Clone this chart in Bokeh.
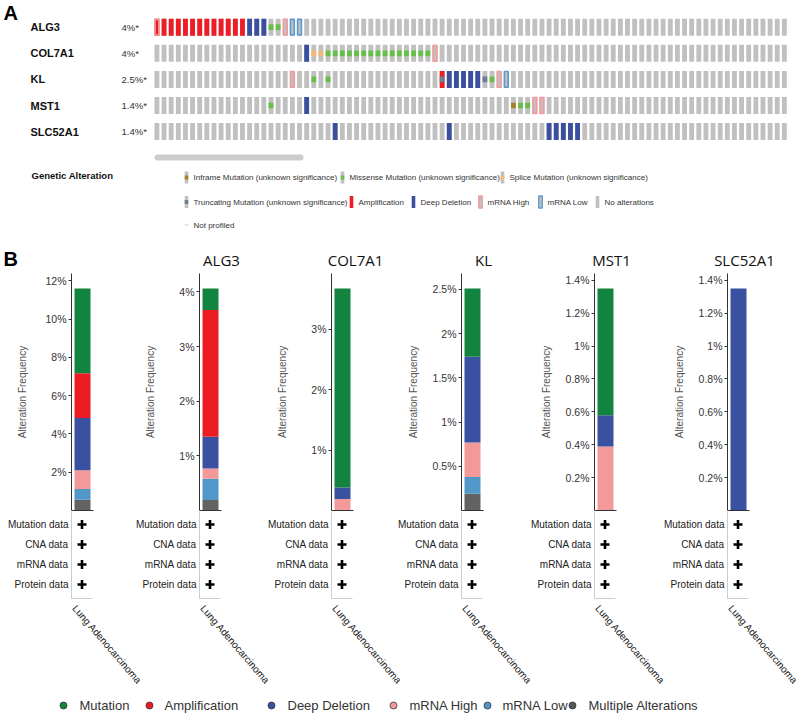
from bokeh.plotting import figure
from bokeh.layouts import column, row
from bokeh.models import Range1d, LinearAxis, FixedTicker, CustomJSTickFormatter, ColumnDataSource
from bokeh.core.properties import value
from bokeh.embed import file_html
from bokeh.resources import INLINE

# ---------------- Panel A data (oncoprint) ----------------
genes = ["ALG3", "COL7A1", "KL", "MST1", "SLC52A1"]
gene_freq_labels = ["4%*", "4%*", "2.5%*", "1.4%*", "1.4%*"]
n_samples_shown = 89

amplification_cols = {"ALG3": [0, 1, 2, 3, 4, 5, 6, 7, 8, 9, 10, 11, 12], "KL": [40]}
deep_deletion_cols = {"ALG3": [13, 14, 15], "COL7A1": [21], "KL": [41, 42, 43, 44, 45],
                      "MST1": [21], "SLC52A1": [25, 41, 55, 56, 57, 58, 59]}
mrna_high_cols = {"ALG3": [0, 18], "COL7A1": [39], "KL": [19, 48], "MST1": [53, 54]}
mrna_low_cols = {"ALG3": [19, 20], "KL": [49]}
missense_cols = {"ALG3": [16, 17],
                 "COL7A1": [24, 25, 26, 27, 28, 29, 30, 31, 32, 33, 34, 35, 36, 37, 38],
                 "KL": [22, 24, 47], "MST1": [16, 51, 52]}
splice_cols = {"COL7A1": [22, 23]}
inframe_cols = {"MST1": [50]}
truncating_cols = {"KL": [40, 46]}

legend_a_labels = ["Inframe Mutation (unknown significance)", "Missense Mutation (unknown significance)",
                   "Splice Mutation (unknown significance)", "Truncating Mutation (unknown significance)",
                   "Amplification", "Deep Deletion", "mRNA High", "mRNA Low", "No alterations", "Not profiled"]

# ---------------- Panel B data (alteration frequency, %) ----------------
panel_titles = ["", "ALG3", "COL7A1", "KL", "MST1", "SLC52A1"]
multiple_pct = [0.56, 0.19, 0.00, 0.19, 0.00, 0.00]
mrna_low_pct = [0.56, 0.39, 0.00, 0.19, 0.00, 0.00]
mrna_high_pct = [0.98, 0.19, 0.19, 0.39, 0.39, 0.00]
deep_del_pct = [2.73, 0.58, 0.19, 0.97, 0.19, 1.35]
amplification_pct = [2.34, 2.32, 0.00, 0.00, 0.00, 0.00]
mutation_pct = [4.43, 0.39, 3.29, 0.77, 0.77, 0.00]
panel_ticks = [[2, 4, 6, 8, 10, 12], [1, 2, 3, 4], [1, 2, 3], [0.5, 1, 1.5, 2, 2.5],
               [0.2, 0.4, 0.6, 0.8, 1, 1.2, 1.4], [0.2, 0.4, 0.6, 0.8, 1, 1.2, 1.4]]
data_types = ["Mutation data", "CNA data", "mRNA data", "Protein data"]
cancer_type = "Lung Adenocarcinoma"
legend_b_labels = ["Mutation", "Amplification", "Deep Deletion", "mRNA High", "mRNA Low", "Multiple Alterations"]

# ---------------- styles ----------------
SANS = "Liberation Sans"
TITLEF = "Open Sans"
C_GREY = "#c0c0c0"
C_AMP = "#ee1c25"
C_DEL = "#3a4fa0"
C_HIGH = "#f49a9b"
C_LOW = "#5b9bd0"
C_MIS = "#67bf4a"
C_SPL = "#f2b87c"
C_INF = "#a7802a"
C_TRU = "#6f7f8f"
B_COLORS = ["#626262", "#5198c9", "#f4999a", "#3a50a1", "#ec1c24", "#12843f"]  # bottom -> top
LEG_COLORS = ["#12843f", "#ec1c24", "#3a50a1", "#f4999a", "#5198c9", "#555555"]

W = 800


def base_fig(w, h, **kw):
    p = figure(width=w, height=h, output_backend="svg", toolbar_location=None,
               x_axis_location=None, y_axis_location=None, **kw)
    p.grid.visible = False
    p.outline_line_color = None
    return p


# ================= Panel A =================
HA = 271
pA = base_fig(W, HA, x_range=Range1d(0, W), y_range=Range1d(HA, 0), min_border=0)
PITCH, COL0, ROW0, RSTEP = 7.13, 154.0, 26.7, 26.1
pA.extra_x_ranges = {"col": Range1d(-COL0 / PITCH, (W - COL0) / PITCH)}
pA.extra_y_ranges = {"row": Range1d((HA - ROW0) / RSTEP, -ROW0 / RSTEP)}
CW, CH = 0.68, 0.65


def cells(d):
    xs, ys = [], []
    for g, cols in d.items():
        for c in cols:
            xs.append(c + CW / 2)
            ys.append(genes.index(g))
    return xs, ys


bx = [c + CW / 2 for r in range(len(genes)) for c in range(n_samples_shown)]
by = [r for r in range(len(genes)) for c in range(n_samples_shown)]
pA.rect(bx, by, CW, CH, fill_color=C_GREY, line_color=None, x_range_name="col", y_range_name="row")
x, y = cells(amplification_cols)
pA.rect(x, y, CW, CH, fill_color=C_AMP, line_color=None, x_range_name="col", y_range_name="row")
x, y = cells(deep_deletion_cols)
pA.rect(x, y, CW, CH, fill_color=C_DEL, line_color=None, x_range_name="col", y_range_name="row")
x, y = cells(mrna_high_cols)
pA.rect(x, y, CW - 0.14, CH - 0.05, fill_color=None, line_color=C_HIGH, line_width=1.6,
        x_range_name="col", y_range_name="row")
x, y = cells(mrna_low_cols)
pA.rect(x, y, CW - 0.14, CH - 0.05, fill_color=None, line_color=C_LOW, line_width=1.6,
        x_range_name="col", y_range_name="row")
for d, col in [(missense_cols, C_MIS), (splice_cols, C_SPL), (inframe_cols, C_INF), (truncating_cols, C_TRU)]:
    x, y = cells(d)
    pA.rect(x, y, CW, CH / 3, fill_color=col, line_color=None, x_range_name="col", y_range_name="row")

pA.text(x=[30] * len(genes), y=list(range(len(genes))), text=genes, text_font=value(SANS),
        text_font_size="11px", text_font_style="bold", text_color="#111111", text_baseline="middle",
        y_range_name="row")
pA.text(x=[121] * len(genes), y=list(range(len(genes))), text=gene_freq_labels, text_font=value(SANS),
        text_font_size="9.5px", text_color="#333333", text_baseline="middle", y_range_name="row")

# scroll bar
pA.line([157, 300], [157, 157], line_width=6, line_cap="round", line_color="#cdcdcd")

# panel letters
pA.text(x=[3, 3], y=[12, 258], text=["A", "B"], text_font=value(SANS), text_font_size="20px",
        text_font_style="bold", text_color="#000000", text_baseline="middle")

# legend of panel A
pA.text(x=[31], y=[175], text=["Genetic Alteration"], text_font=value(SANS), text_font_size="9.5px",
        text_font_style="bold", text_color="#111111", text_baseline="middle")
icon_x = [186, 342, 502, 186, 351, 413, 480, 540, 597, 186]
icon_y = [177, 177, 177, 201.5, 201.5, 201.5, 201.5, 201.5, 201.5, 224.5]
icon_kind = ["inf", "mis", "spl", "tru", "amp", "del", "high", "low", "none", "np"]
for xi, yi, k in zip(icon_x, icon_y, icon_kind):
    if k == "np":
        pA.rect([xi], [yi], 4, 1, fill_color="#d0d0d0", line_color=None)
        continue
    base = {"amp": C_AMP, "del": C_DEL}.get(k, C_GREY)
    pA.rect([xi], [yi], 3.6, 12, fill_color=base, line_color=None)
    if k in ("inf", "mis", "spl", "tru"):
        col = {"inf": C_INF, "mis": C_MIS, "spl": C_SPL, "tru": C_TRU}[k]
        pA.rect([xi], [yi], 3.6, 4, fill_color=col, line_color=None)
    if k in ("high", "low"):
        pA.rect([xi], [yi], 3.6, 12, fill_color=None, line_color=C_HIGH if k == "high" else C_LOW,
                line_width=1.3)
pA.text(x=[xi + 7 for xi in icon_x], y=icon_y, text=legend_a_labels, text_font=value(SANS),
        text_font_size="8px", text_color="#333333", text_baseline="middle")

# panel titles for B
title_x = [221, 355, 483, 611, 744]
pA.text(x=title_x, y=[259] * 5, text=panel_titles[1:], text_font=value(TITLEF), text_font_size="15px",
        text_color="#111111", text_align="center", text_baseline="middle")

# ================= Panel B: bars =================
panel_widths = [128, 132, 130, 133, 133, 144]
AXL, FRW, BB = 71, 22, 1
HB = 2 + 237 + BB
HL = 18
HT = 714 - HA - HB - HL
stack_names = ["multiple", "mrna_low", "mrna_high", "deep_del", "amp", "mutation"]
series = [multiple_pct, mrna_low_pct, mrna_high_pct, deep_del_pct, amplification_pct, mutation_pct]
label_w = [21.0, 15.2, 15.2, 23.9, 23.9, 23.9]

bar_figs = []
axis_x = []
start = 0
for i, w in enumerate(panel_widths):
    axis_x.append(start + AXL)
    start += w
    total = sum(s[i] for s in series)
    top = total * 1.068
    p = base_fig(w, HB, x_range=Range1d(0, 1), y_range=Range1d(0, top),
                 min_border_left=AXL, min_border_right=w - AXL - FRW, min_border_top=2,
                 min_border_bottom=BB)
    src = ColumnDataSource({"x": [0.5], **{n: [s[i]] for n, s in zip(stack_names, series)}})
    p.vbar_stack(stack_names, x="x", width=16 / 22, fill_color=B_COLORS, line_color=None, source=src)
    ya = LinearAxis(ticker=FixedTicker(ticks=panel_ticks[i], minor_ticks=[]),
                    formatter=CustomJSTickFormatter(code="return tick + '%';"),
                    axis_label="Alteration Frequency")
    ya.axis_line_color = "#333333"
    ya.major_tick_line_color = "#333333"
    ya.major_tick_out = 3
    ya.major_tick_in = 0
    ya.minor_tick_out = 0
    ya.minor_tick_in = 0
    ya.major_label_standoff = 2
    ya.major_label_text_font = SANS
    ya.major_label_text_font_size = "10.5px"
    ya.major_label_text_color = "#333333"
    ya.axis_label_text_font = SANS
    ya.axis_label_text_font_size = "10px"
    ya.axis_label_text_font_style = "normal"
    ya.axis_label_text_color = "#555555"
    ya.axis_label_standoff = max(2, int(round(35 - label_w[i])))
    p.add_layout(ya, "left")
    xa = LinearAxis(ticker=FixedTicker(ticks=[], minor_ticks=[]), major_label_text_font_size="0px",
                    major_tick_out=0, major_tick_in=0, minor_tick_out=0, minor_tick_in=0,
                    major_label_standoff=0, axis_line_color="#333333")
    p.add_layout(xa, "below")
    bar_figs.append(p)

# ================= Panel B: data-type table + cancer type =================
t = base_fig(W, HT, x_range=Range1d(0, W), y_range=Range1d(HT, 0), min_border=0)
ry = [13, 33, 53, 73]
for ax in axis_x:
    t.line([ax, ax, ax + 21], [0, 87, 87], line_color="#cccccc", line_width=1)
    t.text(x=[ax - 3] * 4, y=ry, text=data_types, text_font=value(SANS), text_font_size="10px",
           text_color="#222222", text_align="right", text_baseline="middle")
    t.scatter(x=[ax + 10.5] * 4, y=ry, marker="cross", size=9, line_width=2.6, line_color="#000000")
t.text(x=[ax + 3 for ax in axis_x], y=[95] * len(axis_x), text=[cancer_type] * len(axis_x), angle=-0.86,
       text_font=value(SANS), text_font_size="10px", text_color="#222222", text_align="left",
       text_baseline="middle")

# ================= bottom legend =================
pL = base_fig(W, HL, x_range=Range1d(0, W), y_range=Range1d(HL, 0), min_border=0)
dot_x = [63, 149, 271, 393, 487, 572]
txt_x = [79, 164, 287, 409, 502, 588]
pL.scatter(x=dot_x, y=[9] * 6, marker="circle", size=7, fill_color=LEG_COLORS, line_color="#333333",
           line_width=0.8)
pL.text(x=txt_x, y=[9] * 6, text=legend_b_labels, text_font=value(SANS), text_font_size="13px",
        text_color="#333333", text_baseline="middle")

layout = column(pA, row(*bar_figs), t, pL)
open("out.html", "w").write(file_html(layout, INLINE))
